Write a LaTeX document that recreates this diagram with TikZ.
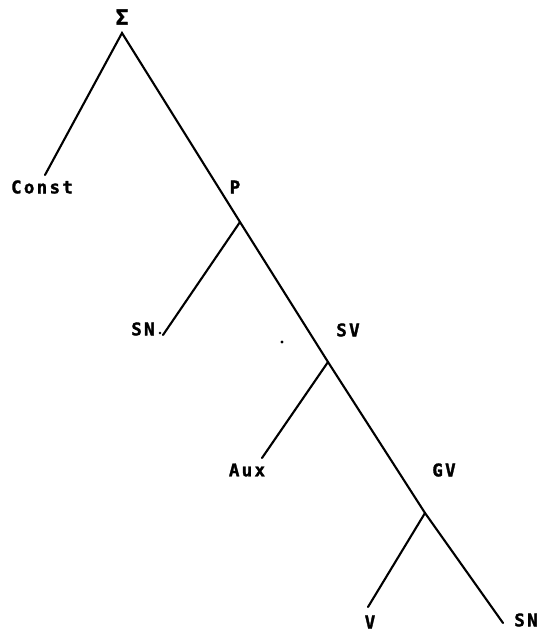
\documentclass[tikz,border=0pt]{standalone}
\usepackage{fontspec}
\newfontfamily\treefont[LetterSpace=13,FakeBold=1.6]{DejaVu Sans Mono Bold}
\begin{document}
\begin{tikzpicture}[x=1pt,y=-1pt,
  branch/.style={line width=2.1pt,line cap=round},
  cat/.style={font=\treefont\fontsize{17.5}{17.5}\selectfont,inner sep=0pt,anchor=center}]
\useasboundingbox (0,0) rectangle (539,634);
% junction points and leaf ends of the tree
\coordinate (root) at (122,33);
\coordinate (jp) at (240,222);
\coordinate (jsv) at (328,362);
\coordinate (jgv) at (425,513);
\coordinate (econst) at (45,175);
\coordinate (esn1) at (163,335);
\coordinate (eaux) at (262,458);
\coordinate (ev) at (368,607);
\coordinate (esn2) at (503,623);
% category labels
\node[cat,font=\treefont\fontsize{21}{21}\selectfont] (sigma) at (122,17) {Σ};
\node[cat] (const) at (42,187) {Const};
\node[cat] (p) at (235,187) {P};
\node[cat] (sn1) at (143,329) {SN};
\node[cat] (sv) at (348,330) {SV};
\node[cat] (aux) at (247,470) {Aux};
\node[cat] (gv) at (444,470) {GV};
\node[cat] (v) at (370,622) {V};
\node[cat] (sn2) at (526,620) {SN};
% tree lines
\draw[branch] (econst) -- (root) -- (jp) -- (jsv) -- (jgv) -- (esn2);
\draw[branch] (jp) -- (esn1);
\draw[branch] (jsv) -- (eaux);
\draw[branch] (jgv) -- (ev);
% small marks
\fill (160,333) circle (1.4pt);
\fill (282,342) circle (1.6pt);
\end{tikzpicture}
\end{document}
